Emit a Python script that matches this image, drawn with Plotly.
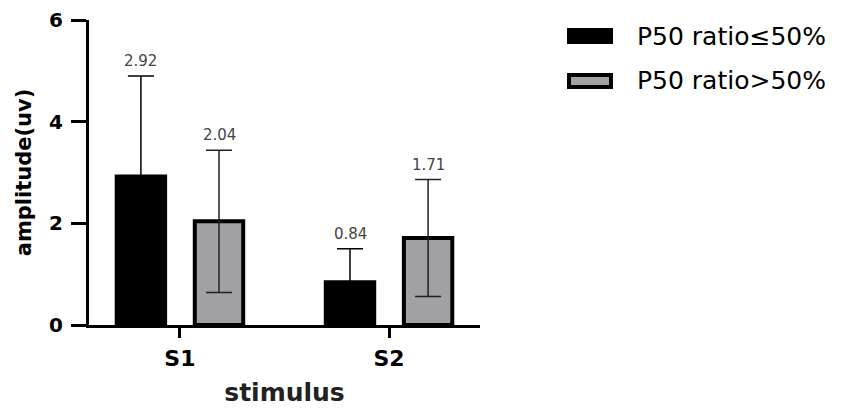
import plotly.graph_objects as go

# ==============================================================================
# DATA
# ==============================================================================

STIMULI = ['S1', 'S2']
GROUPS = ['P50 ratio≤50%', 'P50 ratio>50%']

MEAN_LOW = [2.92, 0.84]    # P50 ratio <= 50%
SD_LOW = [1.98, 0.66]
MEAN_HIGH = [2.04, 1.71]   # P50 ratio > 50%
SD_HIGH = [1.40, 1.15]

Y_TICKS = [0, 2, 4, 6]

# ==============================================================================
# STYLE / LAYOUT
# ==============================================================================

OFF = 8                      # default body margin of the html page
W, H = 850 - 2 * OFF, 415 - 2 * OFF
ML, MT = 89 - OFF, 20 - OFF  # plot area: x 89..480, y 20..325 on the page
PLOT_W, PLOT_H = 391, 305
MR = W - ML - PLOT_W
MB = H - MT - PLOT_H
FILLS = ['#000000', '#a1a1a5']
ERR_COLORS = ['#000000', '#222222']
BARGAP = 0.253
BARGROUPGAP = 0.38
FONT = 'DejaVu Sans'


def px_x(px):
    # page pixel -> paper x
    return (px - OFF - ML) / PLOT_W


def px_y(py):
    # page pixel -> paper y
    return (MT + PLOT_H - (py - OFF)) / PLOT_H


x_pos = list(range(len(STIMULI)))
offset = (1 - BARGAP) / 4   # centre of each bar inside its group

fig = go.Figure()

series = [(GROUPS[0], MEAN_LOW, SD_LOW, FILLS[0], ERR_COLORS[0]),
          (GROUPS[1], MEAN_HIGH, SD_HIGH, FILLS[1], ERR_COLORS[1])]

for name, means, sds, fill, ecol in series:
    fig.add_trace(go.Bar(
        x=x_pos, y=means, name=name,
        marker=dict(color=fill, line=dict(color='black', width=4)),
        error_y=dict(type='data', array=sds, visible=True,
                     color=ecol, thickness=1.5, width=13),
        showlegend=False,
    ))

# value labels above the error bars
for sign, means, sds in [(-1, MEAN_LOW, SD_LOW), (1, MEAN_HIGH, SD_HIGH)]:
    for xi, m, s in zip(x_pos, means, sds):
        fig.add_annotation(
            x=xi + sign * offset, y=m + s, text=f'{m:.2f}',
            showarrow=False, yanchor='bottom', yshift=4,
            font=dict(family=FONT, size=15, color='#444444'),
        )

# hand-drawn legend (wide swatches like the original)
legend_rows = [36, 81]
for (name, fill), cy in zip(zip(GROUPS, FILLS), legend_rows):
    fig.add_shape(type='rect', xref='paper', yref='paper',
                  x0=px_x(569), x1=px_x(611), y0=px_y(cy - 6), y1=px_y(cy + 6),
                  fillcolor=fill, line=dict(color='black', width=4))
    fig.add_annotation(xref='paper', yref='paper', x=px_x(635), y=px_y(cy),
                       text=name, showarrow=False, xanchor='left', yanchor='middle',
                       font=dict(family=FONT, size=25, color='black'))

fig.update_layout(
    template='none',
    width=W, height=H,
    margin=dict(l=ML, r=MR, t=MT, b=MB),
    paper_bgcolor='white', plot_bgcolor='white',
    barmode='group', bargap=BARGAP, bargroupgap=BARGROUPGAP,
    showlegend=False,
)

fig.update_xaxes(
    range=[-0.435, 1.435], tickvals=x_pos, ticktext=STIMULI,
    showline=True, linecolor='black', linewidth=3,
    ticks='outside', ticklen=10, tickwidth=3, tickcolor='black',
    showgrid=False, zeroline=False, automargin=False,
    ticklabelstandoff=2, ticklabeloverflow='allow',
    tickfont=dict(family=FONT, size=22, color='black', weight='bold'),
    title=dict(text='stimulus', standoff=21,
               font=dict(family=FONT, size=25, color='#222222', weight='bold')),
)

fig.update_yaxes(
    range=[0, 6], tickvals=Y_TICKS,
    showline=True, linecolor='black', linewidth=3,
    ticks='outside', ticklen=15, tickwidth=3, tickcolor='black',
    showgrid=False, zeroline=False, automargin=False,
    ticklabelstandoff=4, ticklabeloverflow='allow',
    tickfont=dict(family=FONT, size=20, color='black', weight='bold'),
    title=dict(text='amplitude(uv)', standoff=12,
               font=dict(family=FONT, size=21, color='black', weight='bold')),
)

fig.write_html("out.html")
